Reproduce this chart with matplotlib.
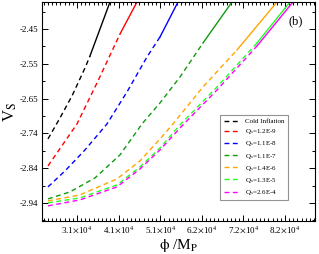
import numpy as np
import matplotlib
matplotlib.use('Agg')
import matplotlib.pyplot as plt
from matplotlib.ticker import AutoMinorLocator

plt.rcParams['font.family'] = ['Liberation Serif', 'DejaVu Serif']
plt.rcParams['mathtext.fontset'] = 'stix'

labels = ['Cold Inflation', r'Q$_{\rm s}$=1.2E-9', r'Q$_{\rm s}$=1.1E-8', r'Q$_{\rm s}$=1.1E-7',
          r'Q$_{\rm s}$=1.4E-6', r'Q$_{\rm s}$=1.3E-5', r'Q$_{\rm s}$=2.6E-4']
colors = ['black', 'red', 'blue', '#119911', 'orange', '#22ff22', 'magenta']

# phi / M_P and V_s
x_cold = [23889, 26832, 29774, 32962, 34188, 39092, 39582]
y_cold = [-2.7598, -2.7006, -2.6387, -2.5598, -2.5260, -2.3740, -2.3599]
x_q1 = [23889, 31000, 35904, 41544, 45712, 46202]
y_q1 = [-2.8358, -2.7175, -2.6021, -2.4641, -2.3740, -2.3599]
x_q2 = [23889, 28058, 32962, 38356, 43260, 48164, 51352, 55765, 56501]
y_q2 = [-2.8949, -2.8499, -2.7907, -2.7175, -2.6274, -2.5288, -2.4725, -2.3740, -2.3599]
x_q3 = [23889, 29284, 35414, 41544, 46938, 51352, 56256, 61895, 69006, 69742]
y_q3 = [-2.9287, -2.9090, -2.8696, -2.8048, -2.7175, -2.6584, -2.5852, -2.4894, -2.3740, -2.3599]
x_q4 = [23889, 31736, 40808, 46448, 51352, 54539, 61895, 70232, 80040, 80776]
y_q4 = [-2.9344, -2.9175, -2.8724, -2.8217, -2.7598, -2.7175, -2.6133, -2.5091, -2.3740, -2.3599]
x_q5 = [23889, 31736, 40808, 46448, 51352, 56256, 65328, 75136, 83228, 83964]
y_q5 = [-2.9400, -2.9259, -2.8893, -2.8386, -2.7851, -2.7203, -2.6133, -2.4894, -2.3740, -2.3599]
x_q6 = [23889, 31736, 40808, 46448, 51352, 56256, 65328, 75136, 83964, 84700]
y_q6 = [-2.9484, -2.9315, -2.8949, -2.8442, -2.7907, -2.7288, -2.6218, -2.4979, -2.3740, -2.3599]
# index where the dashed part turns into a solid line
split = [4, 3, 6, 7, 7, 7, 7]

xs = [x_cold, x_q1, x_q2, x_q3, x_q4, x_q5, x_q6]
ys = [y_cold, y_q1, y_q2, y_q3, y_q4, y_q5, y_q6]

xticks = [31000, 41200, 51400, 61600, 71800, 82000]
yticks = [-2.45, -2.548, -2.646, -2.744, -2.842, -2.94]

fig = plt.figure(figsize=(3.19, 2.54), dpi=100)
ax = fig.add_axes([42/319, 1-221/254, 273/319, 219/254])

for x, y, c, lab, k in zip(xs, ys, colors, labels, split):
    ax.plot(x[:k+1], y[:k+1], color=c, lw=1.0, ls=(0, (3.5, 2.5)), label=lab)
    ax.plot(x[k:], y[k:], color=c, lw=1.0, ls='-')

ax.set_xlim(22420, 89360)
ax.set_ylim(-2.991, -2.374)
ax.set_xticks(xticks)
ax.set_xticklabels([r'%.1f$\times$10$^{4}$' % (v/1e4) for v in xticks])
ax.set_yticks(yticks)
ax.set_yticklabels(['%.2f' % v for v in yticks])
ax.xaxis.set_minor_locator(AutoMinorLocator(10))
ax.yaxis.set_minor_locator(AutoMinorLocator(2))
ax.tick_params(which='both', direction='in', top=True, right=True, labelsize=6.5, width=0.7, pad=2.5)
ax.tick_params(which='major', length=4)
ax.tick_params(which='minor', length=2)
for s in ax.spines.values():
    s.set_linewidth(0.8)

ax.set_ylabel(r'V$_{\rm S}$', fontsize=12, labelpad=1)
ax.set_xlabel(r'$\mathrm{\phi}$ /M$_{\rm P}$', fontsize=11, labelpad=1)
ax.text(0.93, 0.91, '(b)', transform=ax.transAxes, fontsize=9, ha='center', va='center')

leg = ax.legend(loc='lower right', bbox_to_anchor=(0.912, 0.078), fontsize=5, frameon=True,
                fancybox=False, edgecolor='#777777', handlelength=2.2, labelspacing=0.45,
                borderpad=0.5, handletextpad=0.8)
leg.get_frame().set_linewidth(0.8)

fig.savefig('out.png', dpi=100)
